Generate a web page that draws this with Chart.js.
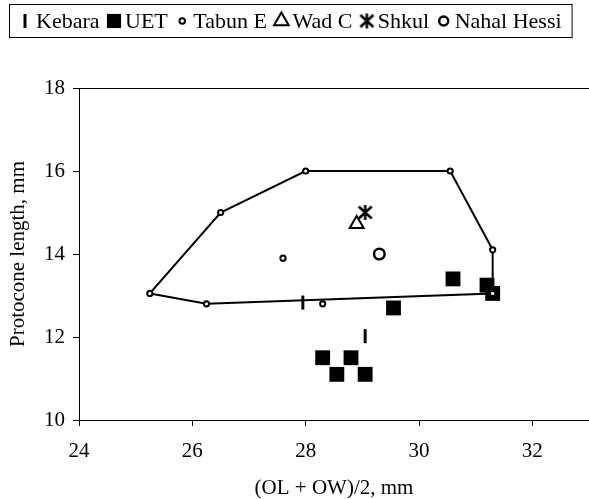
<!DOCTYPE html>
<html>
<head>
<meta charset="utf-8">
<script src="https://cdn.jsdelivr.net/npm/chart.js@4.4.0/dist/chart.umd.min.js"></script>
<style>
  html, body { margin: 0; padding: 0; background: #fff; }
  #wrap { width: 589px; height: 499px; }
</style>
</head>
<body>
<div id="wrap"><canvas id="myChart" width="589" height="499"></canvas></div>
<script>
// values
let kebaraX = [27.95, 29.05];
let kebaraY = [12.83, 12.02];
let uetX = [28.3, 28.8, 28.55, 29.05, 29.55, 30.6, 31.2, 31.3];
let uetY = [11.5, 11.5, 11.1, 11.1, 12.7, 13.4, 13.25, 13.05];
let tabunX = [25.25, 26.5, 28.0, 30.55, 31.3, 31.3, 26.25, 27.6, 28.3];
let tabunY = [13.05, 15.0, 16.0, 16.0, 14.1, 13.05, 12.8, 13.9, 12.8];
let hullOrder = [0, 1, 2, 3, 4, 5, 6, 0]; // Tabun E points on the outline
let wadX = [28.9];
let wadY = [14.72];
let shkulX = [29.05];
let shkulY = [15.0];
let nahalX = [29.3];
let nahalY = [14.0];
let xTicks = [24, 26, 28, 30, 32];
let yTicks = [10, 12, 14, 16, 18];

function pts(xs, ys) {
	return xs.map((x, i) => ({ x: x, y: ys[i] }));
}

// six armed star used for Shkul
function makeStar(s) {
	let cv = document.createElement("canvas");
	cv.width = s;
	cv.height = s;
	let c = cv.getContext("2d");
	c.strokeStyle = "#000";
	c.lineWidth = 2.5;
	c.beginPath();
	c.moveTo(s / 2, 1); c.lineTo(s / 2, s - 1);
	c.moveTo(2, 2.5); c.lineTo(s - 2, s - 2.5);
	c.moveTo(s - 2, 2.5); c.lineTo(2, s - 2.5);
	c.stroke();
	return cv;
}
var star = makeStar(17);

const font = '"Liberation Serif", "Times New Roman", serif';

// legend box and top frame line
const frame = {
	id: "frame",
	afterDraw(chart) {
		const ctx = chart.ctx;
		const area = chart.chartArea;
		ctx.save();
		ctx.strokeStyle = "#000";
		ctx.lineWidth = 1;
		ctx.beginPath();
		ctx.moveTo(area.left, area.top + 0.5);
		ctx.lineTo(area.right, area.top + 0.5);
		ctx.stroke();

		ctx.font = "22px " + font;
		ctx.textBaseline = "middle";
		let x = 15;
		const cy = 21;
		chart.data.datasets.forEach((ds) => {
			if (!ds.label) return;
			ctx.fillStyle = ds.backgroundColor;
			ctx.strokeStyle = ds.borderColor;
			ctx.lineWidth = ds.borderWidth;
			Chart.helpers.drawPoint(ctx, {
				pointStyle: ds.pointStyle,
				rotation: ds.pointRotation || 0,
				radius: ds.legendRadius,
				borderWidth: ds.borderWidth,
			}, x + 10, cy);
			x += 21;
			ctx.fillStyle = "#000";
			ctx.fillText(ds.label, x, cy + 1);
			x += ctx.measureText(ds.label).width + 4.5;
		});
		ctx.lineWidth = 1;
		ctx.strokeStyle = "#000";
		ctx.strokeRect(9.5, 4.5, x - 4.5 + 10 - 9, 33);
		ctx.restore();
	},
};

var ctx = document.getElementById("myChart");
var myChart = new Chart(ctx, {
	type: "scatter",
	data: {
		datasets: [
			{
				label: "Kebara",
				data: pts(kebaraX, kebaraY),
				pointStyle: "line",
				pointRotation: 90,
				pointRadius: 7,
				borderWidth: 3,
				borderColor: "#000",
				backgroundColor: "#000",
				legendRadius: 7,
				order: 0,
			},
			{
				label: "UET",
				data: pts(uetX, uetY),
				pointStyle: "rect",
				pointRadius: 10.5,
				borderWidth: 0,
				borderColor: "#000",
				backgroundColor: "#000",
				legendRadius: 10,
				order: 2,
			},
			{
				label: "Tabun E",
				data: pts(tabunX, tabunY),
				pointStyle: "circle",
				pointRadius: 2.6,
				borderWidth: 2,
				borderColor: "#000",
				backgroundColor: "#fff",
				legendRadius: 2.8,
				order: 1,
			},
			{
				label: "Wad C",
				data: pts(wadX, wadY),
				pointStyle: "triangle",
				pointRadius: 8,
				borderWidth: 2,
				borderColor: "#000",
				backgroundColor: "#fff",
				legendRadius: 8.5,
				order: 0,
			},
			{
				label: "Shkul",
				data: pts(shkulX, shkulY),
				pointStyle: star,
				pointRadius: 9,
				borderWidth: 0,
				borderColor: "#000",
				backgroundColor: "#000",
				legendRadius: 8,
				order: 0,
			},
			{
				label: "Nahal Hessi",
				data: pts(nahalX, nahalY),
				pointStyle: "circle",
				pointRadius: 5.3,
				borderWidth: 2.5,
				borderColor: "#000",
				backgroundColor: "#fff",
				legendRadius: 4.5,
				order: 0,
			},
			{
				label: "",
				data: hullOrder.map((i) => ({ x: tabunX[i], y: tabunY[i] })),
				showLine: true,
				pointRadius: 0,
				borderWidth: 2,
				borderColor: "#000",
				backgroundColor: "#000",
				order: 3,
			},
		],
	},
	options: {
		responsive: false,
		animation: false,
		layout: { autoPadding: false, padding: { top: 88, right: 0, left: 0, bottom: 0 } },
		plugins: {
			legend: { display: false },
			tooltip: { enabled: false },
		},
		scales: {
			x: {
				type: "linear",
				min: 24,
				max: 33,
				afterBuildTicks: (scale) => {
					scale.ticks = xTicks.map((v) => ({ value: v }));
				},
				afterFit: (scale) => {
					scale.height = 79;
				},
				ticks: {
					color: "#000",
					font: { family: font, size: 21 },
					padding: 13,
				},
				grid: {
					drawOnChartArea: false,
					color: "#000",
					tickLength: 6,
				},
				border: { color: "#000", width: 1 },
				title: {
					display: true,
					text: "(OL + OW)/2, mm",
					color: "#000",
					font: { family: font, size: 21, lineHeight: 1 },
					padding: { top: 0, bottom: 0 },
				},
			},
			y: {
				type: "linear",
				min: 10,
				max: 18,
				afterBuildTicks: (scale) => {
					scale.ticks = yTicks.map((v) => ({ value: v }));
				},
				afterFit: (scale) => {
					scale.width = 79;
				},
				ticks: {
					color: "#000",
					font: { family: font, size: 21 },
					padding: 8,
				},
				grid: {
					drawOnChartArea: false,
					color: "#000",
					tickLength: 6,
				},
				border: { color: "#000", width: 1 },
				title: {
					display: true,
					text: "Protocone length, mm",
					color: "#000",
					font: { family: font, size: 21, lineHeight: 1 },
					padding: { top: 8, bottom: 0 },
				},
			},
		},
	},
	plugins: [frame],
});
</script>
</body>
</html>
